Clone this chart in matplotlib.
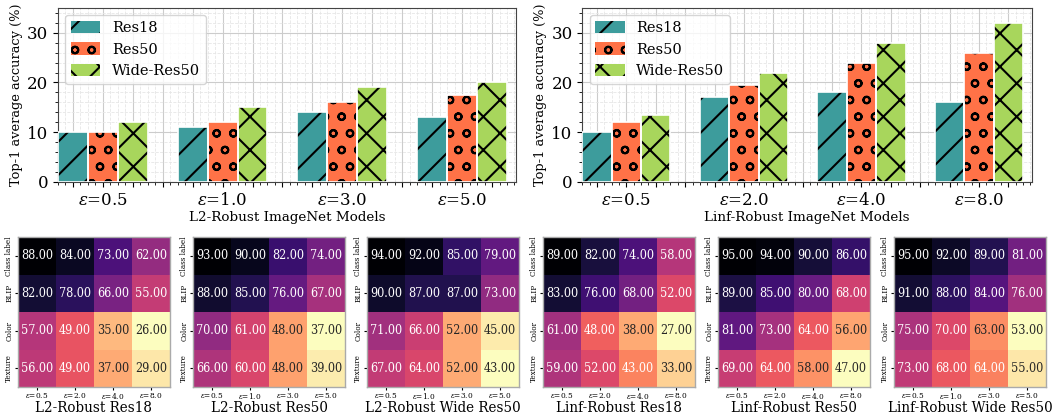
import matplotlib
matplotlib.use("Agg")
import matplotlib.pyplot as plt
import numpy as np
import seaborn as sns
from matplotlib import font_manager
from matplotlib.ticker import AutoMinorLocator, MultipleLocator

# bar charts
models = ["Res18", "Res50", "Wide-Res50"]
l2_eps = ["0.5", "1.0", "3.0", "5.0"]
linf_eps = ["0.5", "2.0", "4.0", "8.0"]
l2_res18 = [10, 11, 14, 13]
l2_res50 = [10, 12, 16, 17.5]
l2_wide = [12, 15, 19, 20]
linf_res18 = [10, 17, 18, 16]
linf_res50 = [12, 19.5, 24, 26]
linf_wide = [13.5, 22, 28, 32]

# heatmaps
rows = ["Class label", "BLIP", "Color", "Texture"]
eps_a = ["0.5", "2.0", "4.0", "8.0"]
eps_b = ["0.5", "1.0", "3.0", "5.0"]
hm_l2_res18 = [[88, 84, 73, 62], [82, 78, 66, 55], [57, 49, 35, 26], [56, 49, 37, 29]]
hm_l2_res50 = [[93, 90, 82, 74], [88, 85, 76, 67], [70, 61, 48, 37], [66, 60, 48, 39]]
hm_l2_wide = [[94, 92, 85, 79], [90, 87, 87, 73], [71, 66, 52, 45], [67, 64, 52, 43]]
hm_linf_res18 = [[89, 82, 74, 58], [83, 76, 68, 52], [61, 48, 38, 27], [59, 52, 43, 33]]
hm_linf_res50 = [[95, 94, 90, 86], [89, 85, 80, 68], [81, 73, 64, 56], [69, 64, 58, 47]]
hm_linf_wide = [[95, 92, 89, 81], [91, 88, 84, 76], [75, 70, 63, 53], [73, 68, 64, 55]]

plt.rcParams['font.family'] = 'DejaVu Serif'
plt.rcParams['mathtext.fontset'] = 'dejavuserif'
plt.rcParams['hatch.linewidth'] = 1.5

# heatmap text looks narrow, use the condensed face if it is installed
has_cond = any(f.name.startswith("DejaVu Serif") and
               (f.stretch == "condensed" or "Condensed" in f.name)
               for f in font_manager.fontManager.ttflist)
cond_family = "DejaVu Serif"
for f in font_manager.fontManager.ttflist:
    if f.name == "DejaVu Serif Condensed":
        cond_family = "DejaVu Serif Condensed"
if has_cond:
    annot_size, title_size = 9, 10.8
else:
    annot_size, title_size = 7.5, 9.3

colors = ["#3d9c9c", "#ff7247", "#a8d65c"]
hatches = ["/", "o", "x"]


def bar_panel(ax, eps, series, xlabel):
    x = np.arange(len(eps))
    w = 0.25
    for i, vals in enumerate(series):
        pos = x + (i - 1) * w
        ax.bar(pos, vals, w, color=colors[i], hatch=hatches[i], edgecolor="black",
               linewidth=0, label=models[i], zorder=3)
        ax.bar(pos, vals, w, fill=False, edgecolor="white", linewidth=1.2, zorder=4)
    ax.set_xlim(-0.375, 3.45)
    ax.set_ylim(0, 35)
    ticks = np.arange(-0.25, 3.5, 0.25)
    labels = []
    for t in ticks:
        if abs(t - round(t)) < 1e-6 and 0 <= round(t) < len(eps):
            labels.append(r"$\varepsilon$=" + eps[int(round(t))])
        else:
            labels.append("")
    ax.set_xticks(ticks, labels, fontsize=12)
    ax.xaxis.set_minor_locator(AutoMinorLocator(4))
    ax.yaxis.set_major_locator(MultipleLocator(10))
    ax.yaxis.set_minor_locator(AutoMinorLocator(5))
    ax.tick_params(axis="y", labelsize=12)
    ax.grid(which="major", color="#cccccc", linewidth=0.8, zorder=0)
    ax.grid(which="minor", color="#e6e6e6", linestyle="--", linewidth=0.6, zorder=0)
    ax.set_axisbelow(True)
    ax.set_ylabel("Top-1 average accuracy (%)", fontsize=9.4, labelpad=3)
    ax.set_xlabel(xlabel, fontsize=9.7, labelpad=2)
    ax.legend(loc="upper left", fontsize=10.5, handlelength=2.0, handleheight=0.9,
              framealpha=0.8)
    for s in ax.spines.values():
        s.set_color("#444444")


def heat_panel(ax, data, eps, title):
    sns.heatmap(np.array(data), ax=ax, cmap="magma_r", annot=True, fmt=".2f",
                cbar=False,
                annot_kws={"fontsize": annot_size, "family": cond_family,
                           "fontstretch": "condensed"},
                xticklabels=[r"$\varepsilon$=" + e for e in eps], yticklabels=rows)
    ax.tick_params(axis="x", labelsize=5.3, rotation=0, length=2, pad=1)
    ax.tick_params(axis="y", labelsize=5.2, length=2, pad=1.5)
    plt.setp(ax.get_yticklabels(), rotation=90, va="center")
    ax.set_xlabel(title, fontsize=title_size, labelpad=0, family=cond_family,
                  fontstretch="condensed")
    for s in ax.spines.values():
        s.set_visible(True)
        s.set_color("#aaaaaa")
        s.set_linewidth(1.0)


fig = plt.figure(figsize=(10.53, 4.19), dpi=100)
ax1 = fig.add_axes([0.055, 0.566, 0.435, 0.415])
ax2 = fig.add_axes([0.553, 0.566, 0.427, 0.415])
bar_panel(ax1, l2_eps, [l2_res18, l2_res50, l2_wide], "L2-Robust ImageNet Models")
bar_panel(ax2, linf_eps, [linf_res18, linf_res50, linf_wide], "Linf-Robust ImageNet Models")

heat = [
    (hm_l2_res18, eps_a, "L2-Robust Res18"),
    (hm_l2_res50, eps_b, "L2-Robust Res50"),
    (hm_l2_wide, eps_b, "L2-Robust Wide Res50"),
    (hm_linf_res18, eps_a, "Linf-Robust Res18"),
    (hm_linf_res50, eps_a, "Linf-Robust Res50"),
    (hm_linf_wide, eps_b, "Linf-Robust Wide Res50"),
]
lefts = [18, 193, 367, 543, 718, 894]
for left, (d, e, t) in zip(lefts, heat):
    ax = fig.add_axes([left / 1053, 0.076, 152 / 1053, 0.358])
    heat_panel(ax, d, e, t)

fig.savefig("out.png", dpi=100)
